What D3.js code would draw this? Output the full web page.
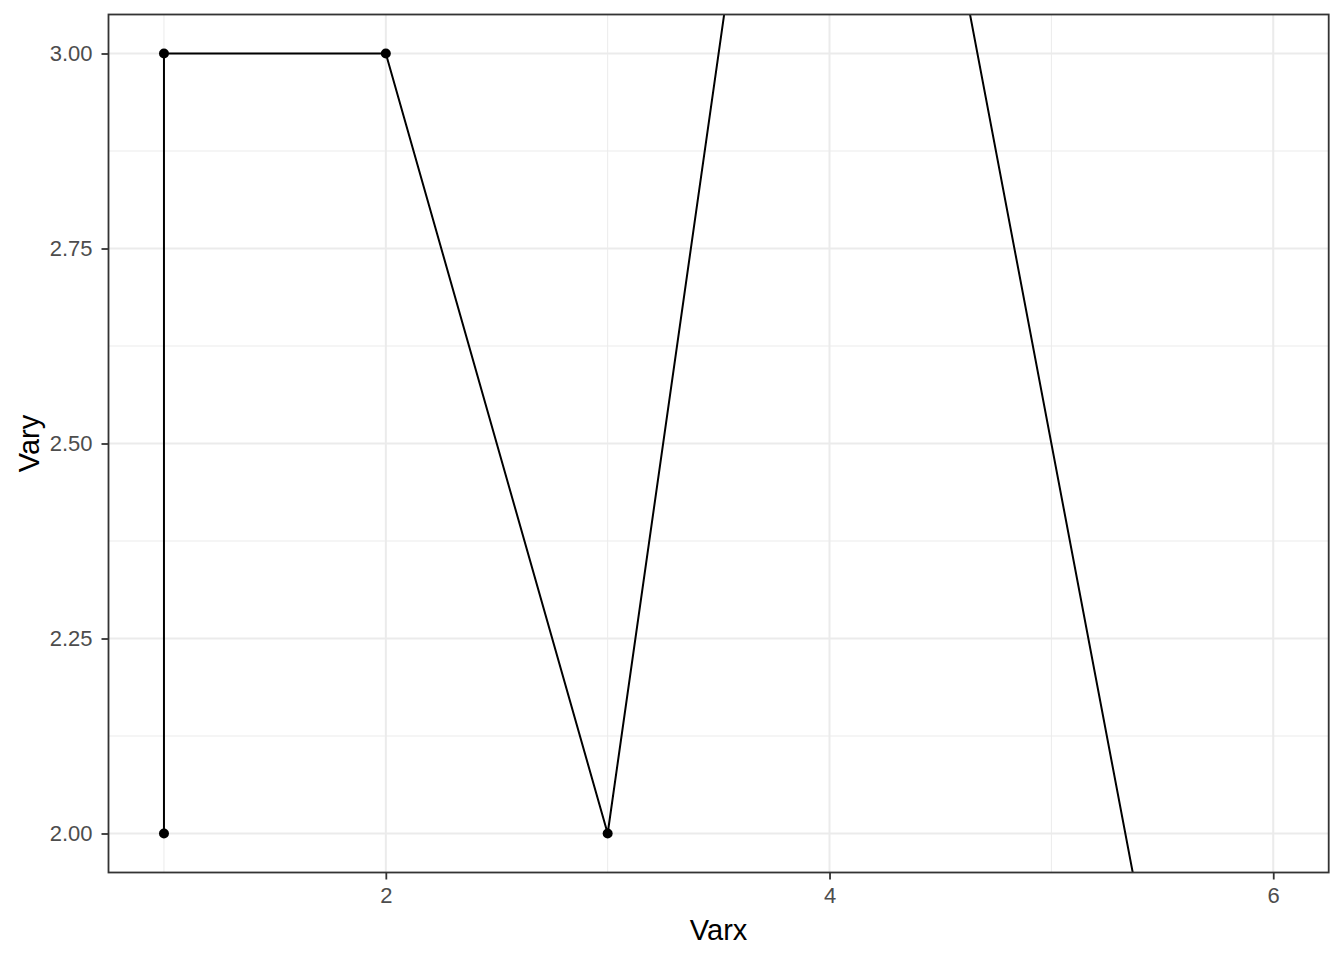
<!DOCTYPE html>
<html>
<head>
<meta charset="utf-8">
<script src="https://cdn.jsdelivr.net/npm/d3@7"></script>
<style>
  body { margin: 0; background: #fff; }
  text { font-family: "Liberation Sans", Arial, sans-serif; }
</style>
</head>
<body>
<svg id="chart" width="1344" height="960"></svg>
<script>
var varx = [1, 1, 2, 3, 4, 6];
var vary = [2, 3, 3, 2, 4, 1];
var xMajor = [2, 4, 6];
var xMinor = [1, 3, 5];
var yMajor = [2.00, 2.25, 2.50, 2.75, 3.00];
var yMinor = [2.125, 2.375, 2.625, 2.875];

var margin = {left: 108.5, top: 14.5, right: 15.3, bottom: 87.5};
var width = 1344 - margin.left - margin.right;
var height = 960 - margin.top - margin.bottom;

var svg = d3.select("#chart");
var g = svg.append("g").attr("transform", "translate(" + margin.left + "," + margin.top + ")");

var x = d3.scaleLinear().domain([0.75, 6.25]).range([0, width]);
var y = d3.scaleLinear().domain([1.95, 3.05]).range([height, 0]);

var data = varx.map(function(d, i) { return {x: d, y: vary[i]}; });

svg.append("defs").append("clipPath").attr("id", "clip")
  .append("rect").attr("width", width).attr("height", height);

// gridlines
g.selectAll(".xminor").data(xMinor).enter().append("line")
  .attr("x1", x).attr("x2", x).attr("y1", 0).attr("y2", height)
  .attr("stroke", "#ebebeb").attr("stroke-width", 1);
g.selectAll(".yminor").data(yMinor).enter().append("line")
  .attr("y1", y).attr("y2", y).attr("x1", 0).attr("x2", width)
  .attr("stroke", "#ebebeb").attr("stroke-width", 1);
g.selectAll(".xmajor").data(xMajor).enter().append("line")
  .attr("x1", x).attr("x2", x).attr("y1", 0).attr("y2", height)
  .attr("stroke", "#ebebeb").attr("stroke-width", 2);
g.selectAll(".ymajor").data(yMajor).enter().append("line")
  .attr("y1", y).attr("y2", y).attr("x1", 0).attr("x2", width)
  .attr("stroke", "#ebebeb").attr("stroke-width", 2);

var plot = g.append("g").attr("clip-path", "url(#clip)");

var line = d3.line().x(function(d) { return x(d.x); }).y(function(d) { return y(d.y); });
plot.append("path").datum(data)
  .attr("d", line).attr("fill", "none").attr("stroke", "#000").attr("stroke-width", 2);

plot.selectAll("circle").data(data).enter().append("circle")
  .attr("cx", function(d) { return x(d.x); })
  .attr("cy", function(d) { return y(d.y); })
  .attr("r", 5).attr("fill", "#000");

// panel border
g.append("rect").attr("width", width).attr("height", height)
  .attr("fill", "none").attr("stroke", "#333333").attr("stroke-width", 1.8);

// axes
var xAxis = g.append("g").attr("transform", "translate(0," + height + ")")
  .call(d3.axisBottom(x).tickValues(xMajor).tickSize(7).tickPadding(8).tickFormat(d3.format("d")));
var yAxis = g.append("g")
  .call(d3.axisLeft(y).tickValues(yMajor).tickSize(7).tickPadding(9).tickFormat(d3.format(".2f")));
[xAxis, yAxis].forEach(function(a) {
  a.attr("font-size", null).attr("font-family", null);
  a.select(".domain").remove();
  a.selectAll("line").attr("stroke", "#333333").attr("stroke-width", 1.8);
  a.selectAll("text").attr("fill", "#4d4d4d").style("font-size", "22px");
});

svg.append("text").attr("x", margin.left + width / 2).attr("y", 940)
  .attr("text-anchor", "middle").style("font-size", "29px").attr("fill", "#000").text("Varx");
svg.append("text")
  .attr("transform", "translate(39," + (margin.top + height / 2) + ") rotate(-90)")
  .attr("text-anchor", "middle").style("font-size", "29px").attr("fill", "#000").text("Vary");
</script>
</body>
</html>
